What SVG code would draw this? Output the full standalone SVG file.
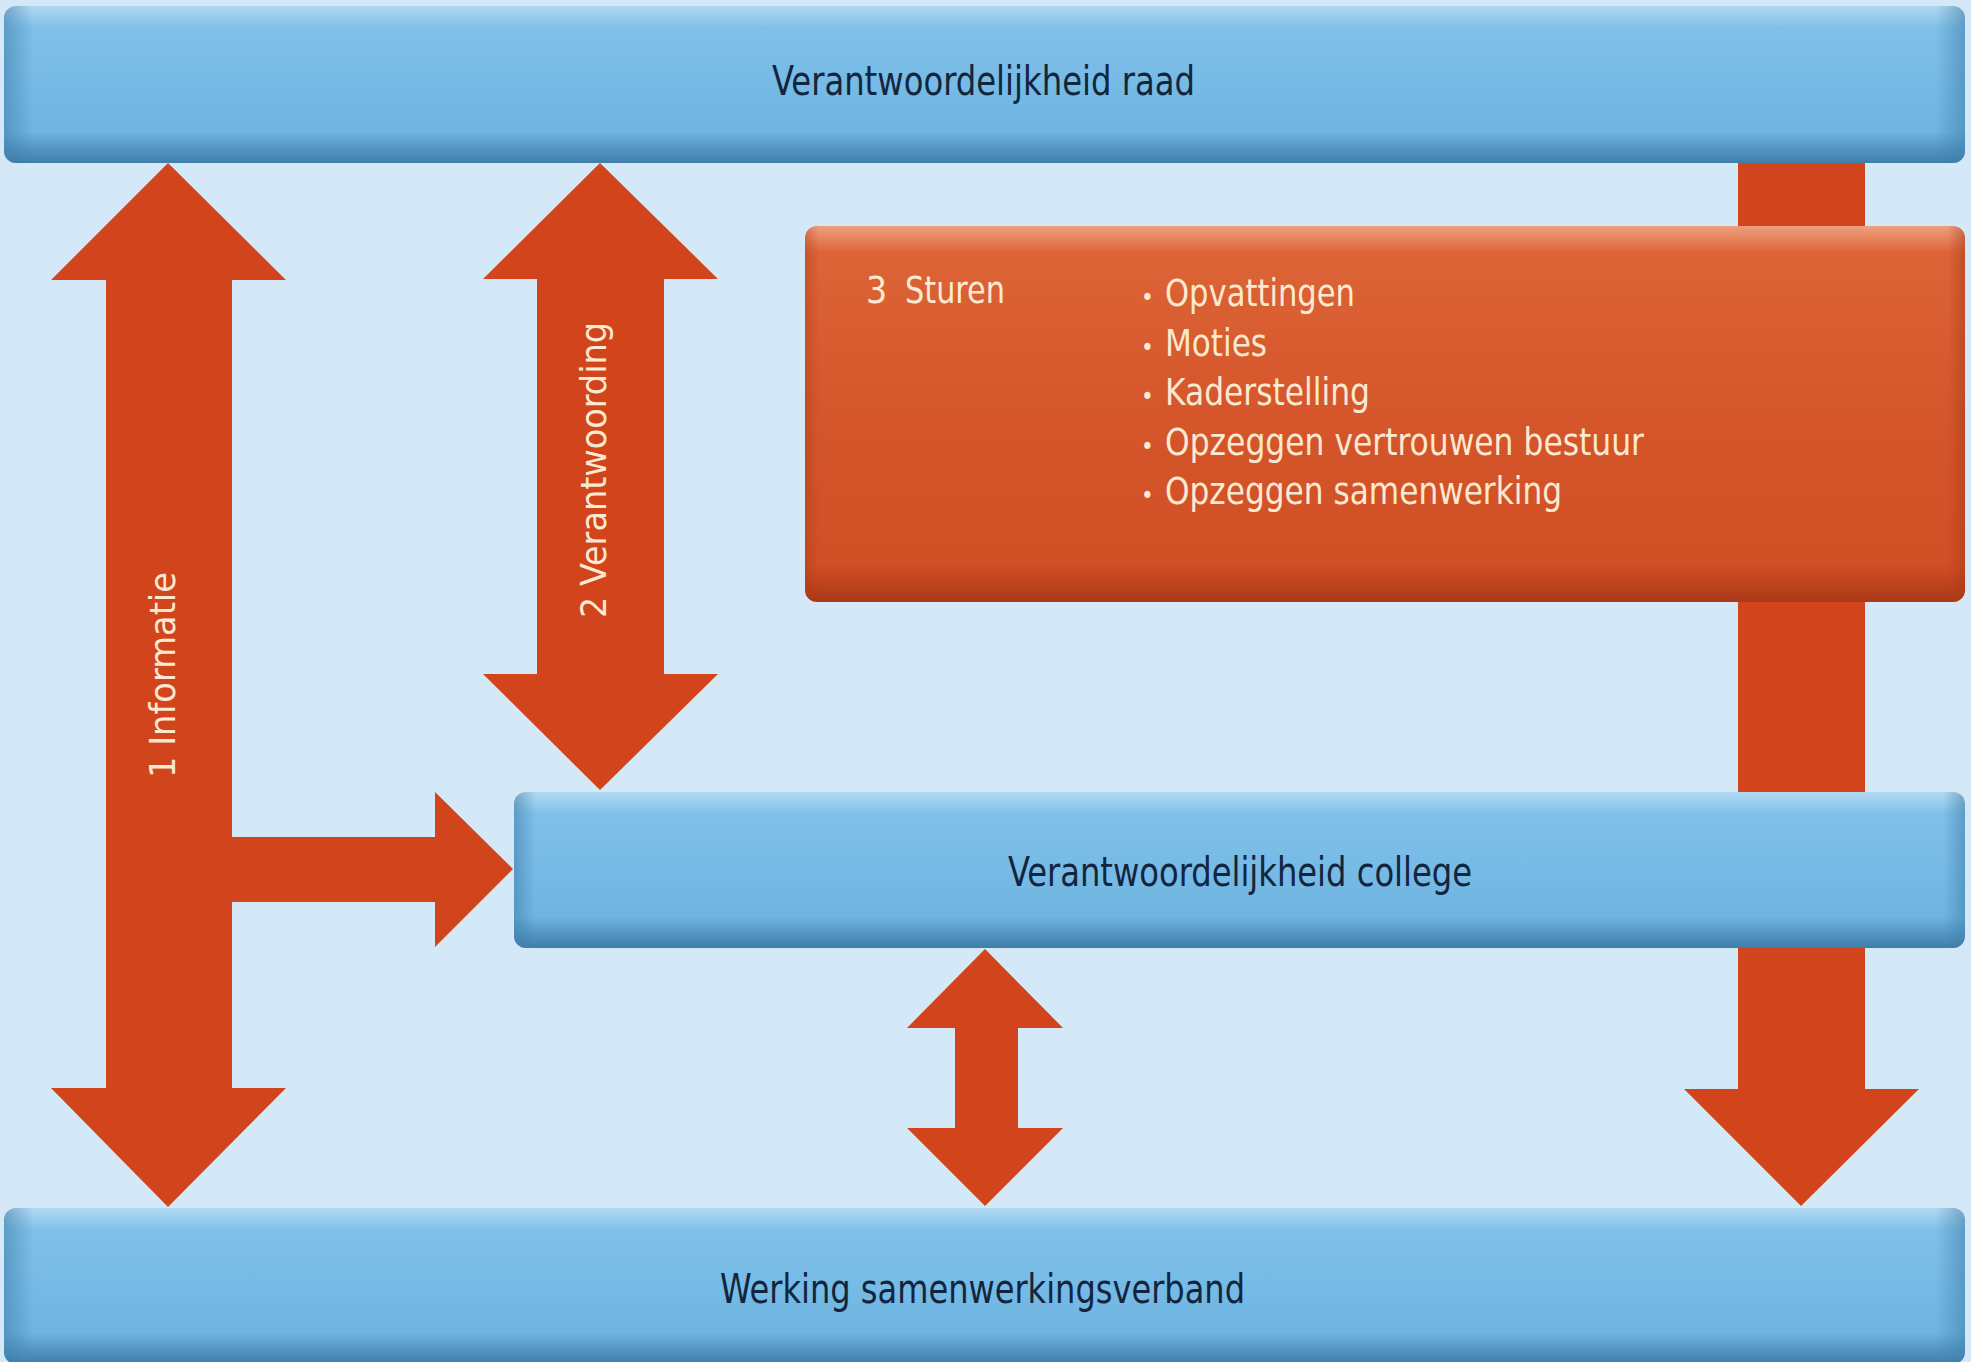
<svg xmlns="http://www.w3.org/2000/svg" width="1971" height="1362" viewBox="0 0 1971 1362">
  <defs>
    <linearGradient id="blueV" x1="0" y1="0" x2="0" y2="1">
      <stop offset="0" stop-color="#b2d9f2"/>
      <stop offset="0.14" stop-color="#7fc0e8"/>
      <stop offset="0.5" stop-color="#76bae6"/>
      <stop offset="0.8" stop-color="#70b4e1"/>
      <stop offset="0.9" stop-color="#5598c6"/>
      <stop offset="1" stop-color="#3f7ea9"/>
    </linearGradient>
    <linearGradient id="blueH" x1="0" y1="0" x2="1" y2="0">
      <stop offset="0" stop-color="#3f7ea9" stop-opacity="0.55"/>
      <stop offset="0.015" stop-color="#3f7ea9" stop-opacity="0"/>
      <stop offset="0.985" stop-color="#3f7ea9" stop-opacity="0"/>
      <stop offset="1" stop-color="#3f7ea9" stop-opacity="0.55"/>
    </linearGradient>
    <linearGradient id="orangeV" x1="0" y1="0" x2="0" y2="1">
      <stop offset="0" stop-color="#eea07e"/>
      <stop offset="0.07" stop-color="#dc6436"/>
      <stop offset="0.5" stop-color="#d5562b"/>
      <stop offset="0.9" stop-color="#d14f25"/>
      <stop offset="0.96" stop-color="#bb421d"/>
      <stop offset="1" stop-color="#a8391a"/>
    </linearGradient>
    <linearGradient id="orangeH" x1="0" y1="0" x2="1" y2="0">
      <stop offset="0" stop-color="#a8391a" stop-opacity="0.4"/>
      <stop offset="0.012" stop-color="#a8391a" stop-opacity="0"/>
      <stop offset="0.985" stop-color="#a8391a" stop-opacity="0"/>
      <stop offset="1" stop-color="#a8391a" stop-opacity="0.5"/>
    </linearGradient>
  </defs>
  <style>
    .arrow { fill: #d2441b; }
    .bar { fill: url(#blueV); }
    .barEdge { fill: url(#blueH); }
    .box { fill: url(#orangeV); }
    .boxEdge { fill: url(#orangeH); }
    .lbl { font-family: "Liberation Sans Narrow", "DejaVu Sans Condensed", "Liberation Sans", sans-serif; font-size: 40px; fill: #13253d; }
    .wt { font-family: "Liberation Sans Narrow", "DejaVu Sans Condensed", "Liberation Sans", sans-serif; font-size: 37px; fill: #fbe9d2; }
    .rot { font-family: "Liberation Sans Narrow", "DejaVu Sans Condensed", "Liberation Sans", sans-serif; font-size: 35px; fill: #fbe9d2; }
    .bul { font-size: 24px; }
  </style>
  <rect x="0" y="0" width="1971" height="1362" fill="#d4e8f7"/>

  <g id="connectors">
    <path id="arrow-informatie" class="arrow" d="M168,163 L286,280 L232,280 L232,837 L435,837 L435,792 L513,869 L435,947 L435,902 L232,902 L232,1088 L286,1088 L168,1207 L51,1088 L106,1088 L106,280 L51,280 Z"/>
    <path id="arrow-verantwoording" class="arrow" d="M600,163 L718,279 L664,279 L664,674 L718,674 L600,790 L483,674 L537,674 L537,279 L483,279 Z"/>
    <path id="arrow-college-werking" class="arrow" d="M985,949 L1063,1028 L1018,1028 L1018,1128 L1063,1128 L985,1206 L907,1128 L955,1128 L955,1028 L907,1028 Z"/>
    <path id="arrow-sturen" class="arrow" d="M1738,158 L1865,158 L1865,1089 L1919,1089 L1801,1206 L1684,1089 L1738,1089 Z"/>
    <text class="rot" transform="translate(175,778) rotate(-90)" textLength="206" lengthAdjust="spacingAndGlyphs">1 Informatie</text>
    <text class="rot" transform="translate(606,618) rotate(-90)" textLength="296" lengthAdjust="spacingAndGlyphs">2 Verantwoording</text>
  </g>

  <g id="node-raad">
    <rect class="bar" x="4" y="6" width="1961" height="157" rx="12"/>
    <rect class="barEdge" x="4" y="6" width="1961" height="157" rx="12"/>
    <text class="lbl" x="772" y="95" textLength="423" lengthAdjust="spacingAndGlyphs">Verantwoordelijkheid raad</text>
  </g>

  <g id="node-sturen">
    <rect class="box" x="805" y="226" width="1160" height="376" rx="12"/>
    <rect class="boxEdge" x="805" y="226" width="1160" height="376" rx="12"/>
    <text class="wt" y="303"><tspan x="866">3</tspan> <tspan x="905" textLength="100" lengthAdjust="spacingAndGlyphs">Sturen</tspan></text>
    <text class="wt" y="306"><tspan class="bul" x="1141">•</tspan> <tspan x="1165" textLength="190" lengthAdjust="spacingAndGlyphs">Opvattingen</tspan></text>
    <text class="wt" y="356"><tspan class="bul" x="1141">•</tspan> <tspan x="1165" textLength="102" lengthAdjust="spacingAndGlyphs">Moties</tspan></text>
    <text class="wt" y="405"><tspan class="bul" x="1141">•</tspan> <tspan x="1165" textLength="205" lengthAdjust="spacingAndGlyphs">Kaderstelling</tspan></text>
    <text class="wt" y="455"><tspan class="bul" x="1141">•</tspan> <tspan x="1165" textLength="479" lengthAdjust="spacingAndGlyphs">Opzeggen vertrouwen bestuur</tspan></text>
    <text class="wt" y="504"><tspan class="bul" x="1141">•</tspan> <tspan x="1165" textLength="397" lengthAdjust="spacingAndGlyphs">Opzeggen samenwerking</tspan></text>
  </g>

  <g id="node-college">
    <rect class="bar" x="514" y="792" width="1451" height="156" rx="12"/>
    <rect class="barEdge" x="514" y="792" width="1451" height="156" rx="12"/>
    <text class="lbl" x="1008" y="886" textLength="464" lengthAdjust="spacingAndGlyphs">Verantwoordelijkheid college</text>
  </g>

  <g id="node-werking">
    <rect class="bar" x="4" y="1208" width="1961" height="156" rx="12"/>
    <rect class="barEdge" x="4" y="1208" width="1961" height="156" rx="12"/>
    <text class="lbl" x="720" y="1303" textLength="525" lengthAdjust="spacingAndGlyphs">Werking samenwerkingsverband</text>
  </g>
</svg>
